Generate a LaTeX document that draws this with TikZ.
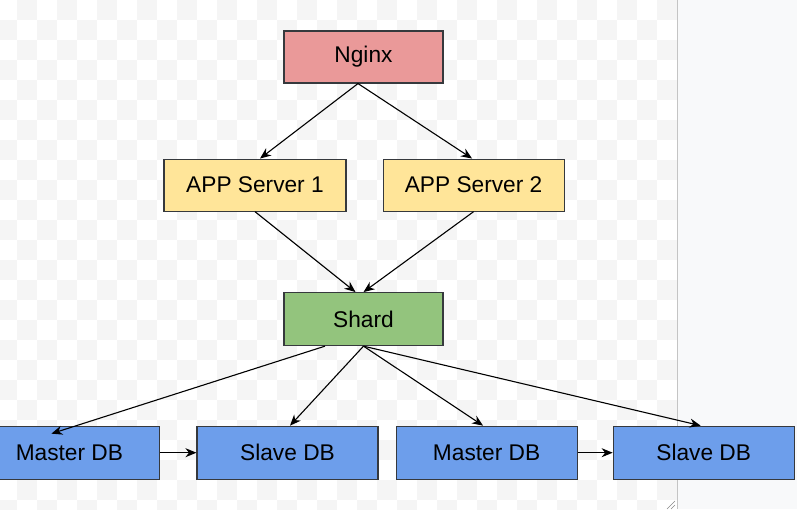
\documentclass[tikz,border=0pt]{standalone}
\usepackage{fontspec}
\setmainfont{Liberation Sans}
\usepackage{tikz}
\usetikzlibrary{shapes, arrows.meta, positioning}

\definecolor{nginxred}{HTML}{EA9999}
\definecolor{appyellow}{HTML}{FFE599}
\definecolor{shardgreen}{HTML}{93C47D}
\definecolor{dbblue}{HTML}{6D9EEB}
\definecolor{boxline}{HTML}{36393D}
\definecolor{checkgrey}{HTML}{F5F5F5}
\definecolor{panelgrey}{HTML}{F8F9FA}
\definecolor{panelline}{HTML}{C4C4C4}

\begin{document}
\begin{tikzpicture}[
	x=1pt, y=1pt,
	block/.style={rectangle, draw=boxline, line width=1.1pt, text=black,
		minimum width=181pt, minimum height=53pt, inner sep=0pt,
		font=\fontsize{22.7}{27}\selectfont},
	line/.style={draw, line width=1.1pt, -{Stealth[length=11pt, width=9pt, inset=3.5pt]}},
	]
	\useasboundingbox (0,0) rectangle (797,-509);
	
	% canvas background
	\begin{scope}
		\clip (0,0) rectangle (677,-509);
		\foreach \j in {0,...,25} {
			\pgfmathsetmacro\off{mod(\j,2)==0 ? 17 : -3}
			\foreach \i in {0,...,16}
				\fill[checkgrey] (\off+40*\i, -20*\j) rectangle ++(20,-20);
		}
	\end{scope}
	\fill[panelgrey] (677,0) rectangle (797,-509);
	\draw[panelline, line width=0.8pt] (677,0) -- (677,-509);
	\draw[panelline!70!black, line width=0.6pt] (667,-509) -- (675,-501) (671,-509) -- (675,-505);
	
	\node [block, minimum width=159pt, minimum height=52pt, fill=nginxred] (nginx) at (363.5,-57) {Nginx};
	\node [block, minimum width=182pt, minimum height=52pt, below=75pt of nginx, xshift=-108.5pt, fill=appyellow] (app1) {APP Server 1};
	\node [block, minimum height=52pt, right=36pt of app1, fill=appyellow] (app2) {APP Server 2};
	\node [block, minimum width=159pt, below=208.5pt of nginx, fill=shardgreen] (shard) {Shard};
	\node [block, below=79.5pt of shard, xshift=-76pt, fill=dbblue] (slave1) {Slave DB};
	\node [block, left=36pt of slave1, fill=dbblue] (master1) {Master DB};
	\node [block, right=17pt of slave1, fill=dbblue] (master2) {Master DB};
	\node [block, right=35pt of master2, fill=dbblue] (slave2) {Slave DB};
	
	\path [line] ([xshift=-5.5pt]nginx.south) -- ([xshift=5pt]app1.north);
	\path [line] ([xshift=-5.5pt]nginx.south) -- ([xshift=-1.5pt]app2.north);
	\path [line] (app1.south) -- ([xshift=-8pt]shard.north);
	\path [line] (app2.south) -- (shard.north);
	\path [line] ([xshift=-38.5pt]shard.south) -- ([xshift=-18pt, yshift=-8pt]master1.north);
	\path [line] (shard.south) -- ([xshift=2.5pt]slave1.north);
	\path [line] (shard.south) -- ([xshift=-3.5pt]master2.north);
	\path [line] (shard.south) -- ([xshift=-3pt]slave2.north);
	\path [line] (master1) -- (slave1);
	\path [line] (master2) -- (slave2);
\end{tikzpicture}
\end{document}
